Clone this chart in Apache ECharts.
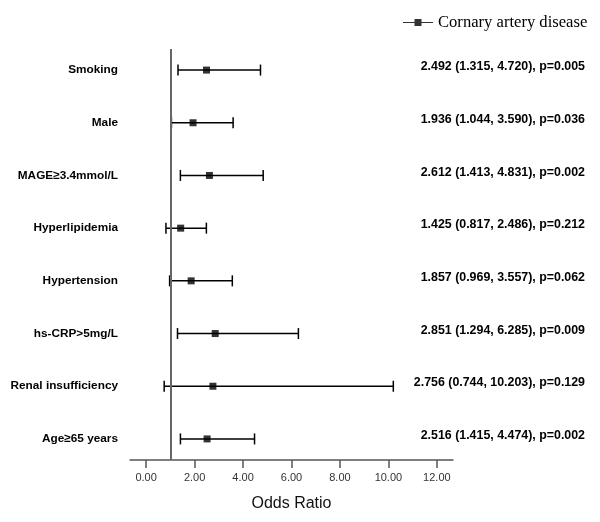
<!DOCTYPE html>
<html>
<head>
<meta charset="utf-8">
<script src="https://cdn.jsdelivr.net/npm/echarts@6/dist/echarts.min.js"></script>
<style>html,body{margin:0;padding:0;background:#fff}#c{width:600px;height:522px}</style>
</head>
<body>
<div id="c"></div>
<script>
const categories = ['Smoking', 'Male', 'MAGE\u22653.4mmol/L', 'Hyperlipidemia', 'Hypertension', 'hs-CRP>5mg/L', 'Renal insufficiency', 'Age\u226565 years'];
const oddsRatio = [2.492, 1.936, 2.612, 1.425, 1.857, 2.851, 2.756, 2.516];
const lowerCI = [1.315, 1.044, 1.413, 0.817, 0.969, 1.294, 0.744, 1.415];
const upperCI = [4.720, 3.590, 4.831, 2.486, 3.557, 6.285, 10.203, 4.474];
const pValues = [0.005, 0.036, 0.002, 0.212, 0.062, 0.009, 0.129, 0.002];
const xTicks = [0, 2, 4, 6, 8, 10, 12];
const seriesName = 'Cornary artery disease';

const n = categories.length;
const rowPos = categories.map((c, i) => n - i);
const rowOf = v => categories[n - Math.round(v)];
const textOf = v => {
  const i = n - Math.round(v);
  return oddsRatio[i].toFixed(3) + ' (' + lowerCI[i].toFixed(3) + ', ' + upperCI[i].toFixed(3) + '), p=' + pValues[i].toFixed(3);
};

const chart = echarts.init(document.getElementById('c'));
chart.setOption({
  animation: false,
  backgroundColor: '#fff',
  grid: { left: 130, right: 147, top: 49, bottom: 62 },
  legend: {
    data: [{ name: seriesName, icon: 'path://M0,4.4H30V5.6H0Z M11.5,1.5H18.5V8.5H11.5Z' }],
    left: 398, top: 9,
    itemWidth: 30, itemHeight: 10, itemGap: 6,
    selectedMode: false,
    textStyle: { fontFamily: 'Liberation Serif', fontSize: 16.6, color: '#000' }
  },
  xAxis: {
    type: 'value', min: -0.6667, max: 12.6667,
    name: 'Odds Ratio', nameLocation: 'middle', nameGap: 36,
    nameTextStyle: { fontFamily: 'Liberation Sans', fontSize: 16, color: '#111' },
    axisLine: { show: true, onZero: false, lineStyle: { color: '#555', width: 1.5 } },
    axisTick: { show: true, length: 8, customValues: xTicks, lineStyle: { color: '#555', width: 1.5 } },
    axisLabel: { customValues: xTicks, margin: 12, formatter: v => v.toFixed(2), fontFamily: 'Liberation Sans', fontSize: 11, color: '#333' },
    splitLine: { show: false }
  },
  yAxis: [{
    type: 'value', min: 0.6, max: n + 0.4,
    axisLine: { show: false }, axisTick: { show: false }, splitLine: { show: false },
    axisLabel: { customValues: rowPos, formatter: rowOf, margin: 12, fontFamily: 'Liberation Sans', fontWeight: 'bold', fontSize: 11.8, color: '#000' }
  }, {
    type: 'value', position: 'right', min: 0.6 - 0.06, max: n + 0.4 - 0.06,
    axisLine: { show: false }, axisTick: { show: false }, splitLine: { show: false },
    axisLabel: { customValues: rowPos, formatter: textOf, margin: 132, align: 'right', fontFamily: 'Liberation Sans', fontWeight: 'bold', fontSize: 12.4, color: '#000' }
  }],
  series: [{
    name: 'CI',
    type: 'custom',
    data: categories.map((c, i) => [lowerCI[i], upperCI[i], n - i]),
    encode: { x: [0, 1], y: 2 },
    renderItem: (params, api) => {
      const y = api.value(2);
      const a = api.coord([api.value(0), y]);
      const b = api.coord([api.value(1), y]);
      const h = 5.5;
      const st = { stroke: '#000', lineWidth: 1.5 };
      return { type: 'group', children: [
        { type: 'line', shape: { x1: a[0], y1: a[1], x2: b[0], y2: b[1] }, style: st },
        { type: 'line', shape: { x1: a[0], y1: a[1] - h, x2: a[0], y2: a[1] + h }, style: st },
        { type: 'line', shape: { x1: b[0], y1: b[1] - h, x2: b[0], y2: b[1] + h }, style: st }
      ]};
    },
    markLine: {
      silent: true, symbol: ['none', 'none'], label: { show: false },
      lineStyle: { color: '#666', width: 2, type: 'solid' },
      data: [{ xAxis: 1 }]
    },
    z: 2
  }, {
    name: seriesName,
    type: 'scatter',
    symbol: 'rect', symbolSize: 7,
    itemStyle: { color: '#000' },
    data: categories.map((c, i) => [oddsRatio[i], n - i]),
    z: 3
  }]
});
</script>
</body>
</html>
